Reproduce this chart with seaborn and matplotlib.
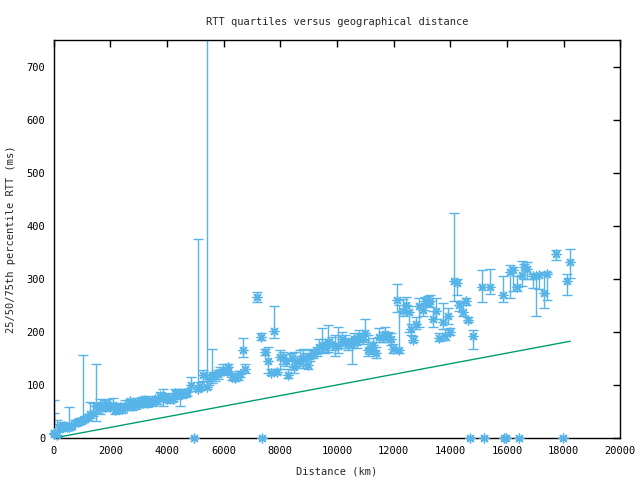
import matplotlib
matplotlib.use("Agg")
import matplotlib.pyplot as plt
import seaborn as sns
import numpy as np

# distance (km) and 25th / 50th / 75th percentile RTT (ms)
dist = [0, 20, 100, 200, 280, 350, 450, 530, 620, 750, 850, 920, 1030, 1120, 1200,
        1280, 1380, 1480, 1560, 1630, 1700, 1800, 1870, 1980, 2080, 2160, 2250, 2330,
        2420, 2510, 2600, 2690, 2780, 2860, 2950, 3040, 3130, 3220, 3300, 3390, 3480,
        3570, 3660, 3750, 3860, 3920, 4000, 4100, 4200, 4280, 4350, 4450, 4530, 4630,
        4720, 4840, 4950, 5090, 5180, 5270, 5400, 5480, 5580, 5700, 5800, 5870, 5980,
        6100, 6150, 6300, 6400, 6500, 6570, 6680, 6750, 7180, 7310, 7350, 7460, 7570,
        7670, 7780, 7870, 7990, 8100, 8200, 8270, 8400, 8490, 8580, 8690, 8790, 8870,
        8980, 9050, 9150, 9290, 9370, 9470, 9580, 9690, 9820, 9930, 10040, 10170,
        10280, 10390, 10530, 10600, 10710, 10780, 10920, 10990, 11100, 11170, 11270,
        11380, 11490, 11630, 11700, 11800, 11910, 11990, 12120, 12190, 12330, 12440,
        12550, 12620, 12700, 12790, 12900, 13030, 13110, 13200, 13290, 13390, 13500,
        13600, 13750, 13820, 13920, 14000, 14140, 14240, 14310, 14450, 14560, 14630,
        14700, 14810, 15120, 15200, 15410, 15870, 15900, 15960, 16110, 16220, 16360,
        16430, 16540, 16610, 16720, 16930, 17030, 17140, 17320, 17420, 17740, 17980,
        18130, 18240]
q25 = [2, 3, 2, 12, 14, 15, 16, 15, 17, 22, 24, 26, 30, 32, 34,
       38, 42, 32, 48, 46, 52, 50, 55, 52, 55, 46, 48, 50,
       48, 52, 54, 58, 52, 55, 62, 58, 60, 62, 58, 63, 60,
       66, 64, 70, 60, 70, 68, 66, 70, 76, 74, 60, 76, 78,
       80, 88, 0, 88, 90, 108, 92, 100, 104, 108, 112, 118, 118,
       120, 125, 110, 108, 110, 115, 153, 122, 257, 185, 0, 157, 122,
       118, 188, 120, 130, 140, 135, 114, 130, 122, 132, 135, 132, 140,
       130, 145, 150, 155, 160, 163, 160, 163, 165, 155, 160, 175,
       170, 165, 140, 175, 170, 182, 178, 185, 155, 158, 165,
       150, 180, 180, 185, 180, 175, 160, 237, 160, 230, 240,
       199, 195, 180, 205, 209, 230, 250, 248, 246, 210, 225,
       182, 205, 185, 215, 195, 258, 270, 240, 230, 250, 218,
       0, 168, 256, 0, 272, 256, 0, 0, 264, 278, 278,
       0, 287, 300, 300, 283, 230, 280, 245, 260, 335, 0,
       270, 302]
med = [10, 8, 6, 18, 20, 22, 20, 20, 22, 28, 30, 32, 34, 36, 40,
       46, 48, 60, 56, 56, 60, 58, 65, 59, 62, 53, 55, 58,
       54, 60, 58, 69, 60, 62, 68, 64, 66, 72, 66, 69, 68,
       73, 70, 79, 78, 77, 73, 75, 74, 84, 82, 84, 82, 84,
       86, 99, 0, 92, 98, 118, 96, 112, 119, 117, 120, 125, 128,
       126, 134, 115, 114, 116, 121, 165, 130, 266, 191, 0, 162, 146,
       122, 202, 125, 152, 150, 145, 119, 150, 133, 144, 145, 151, 150,
       138, 155, 158, 164, 172, 175, 169, 181, 178, 173, 173, 187,
       181, 177, 175, 187, 181, 193, 187, 197, 165, 168, 175,
       160, 190, 190, 196, 190, 187, 168, 260, 166, 240, 251,
       237, 205, 184, 214, 249, 241, 258, 257, 258, 224, 239,
       188, 218, 193, 230, 200, 296, 292, 250, 238, 258, 222,
       0, 193, 285, 0, 285, 270, 0, 0, 313, 317, 285,
       0, 307, 323, 318, 305, 305, 307, 273, 310, 347, 0,
       295, 332]
q75 = [47, 72, 34, 26, 30, 28, 25, 59, 28, 34, 36, 38, 156, 42, 46,
       68, 66, 139, 66, 73, 68, 72, 74, 66, 75, 62, 64, 66,
       60, 72, 66, 74, 70, 72, 76, 72, 78, 80, 74, 76, 74,
       80, 78, 86, 92, 84, 80, 82, 80, 92, 90, 92, 90, 90,
       92, 115, 0, 375, 105, 128, 1200, 120, 168, 125, 128, 134, 140,
       132, 140, 122, 120, 127, 127, 188, 140, 276, 198, 0, 167, 172,
       130, 249, 130, 165, 162, 158, 130, 160, 163, 155, 165, 168, 160,
       148, 165, 168, 172, 187, 207, 187, 213, 190, 195, 210, 200,
       195, 188, 185, 198, 192, 203, 198, 225, 195, 180, 188,
       172, 207, 200, 210, 200, 198, 178, 290, 250, 262, 265,
       249, 215, 192, 228, 264, 252, 266, 268, 270, 239, 264,
       198, 255, 205, 245, 207, 424, 300, 258, 258, 264, 228,
       0, 203, 317, 0, 319, 306, 0, 0, 326, 322, 305,
       0, 334, 328, 331, 310, 310, 310, 313, 313, 354, 0,
       309, 356]

# speed-of-light-in-fibre reference line
fibre_x = [0, 18240]
fibre_y = [0, 182.4]

xticks = [0, 2000, 4000, 6000, 8000, 10000, 12000, 14000, 16000, 18000, 20000]
yticks = [0, 100, 200, 300, 400, 500, 600, 700]

blue = "#56b4e9"
green = "#009e73"

sns.set_style("white")
plt.rcParams["font.family"] = ["DejaVu Sans Mono"]
plt.rcParams["font.size"] = 7.5

d = np.array(dist)
m = np.array(med)
lo = np.array(q25)
hi = np.array(q75)

fig = plt.figure(figsize=(6.4, 4.8), dpi=100)
ax = fig.add_axes([0.084, 0.0875, 0.885, 0.829])

ax.errorbar(d, m, yerr=[m - lo, hi - m], fmt="none", ecolor=blue,
            elinewidth=1, capsize=3.5, capthick=1)
sns.scatterplot(x=d, y=m, marker=(8, 2, 0), s=40, color=blue,
                linewidth=1, ax=ax, clip_on=False, zorder=3)
sns.lineplot(x=fibre_x, y=fibre_y, color=green, linewidth=1, ax=ax)

ax.set_xlim(0, 20000)
ax.set_ylim(0, 750)
ax.set_xticks(xticks)
ax.set_yticks(yticks)
ax.tick_params(direction="in", top=True, right=True, length=5, width=1,
               pad=6, colors="black", labelsize=7.5)
for sp in ax.spines.values():
    sp.set_visible(True)
    sp.set_color("black")
    sp.set_linewidth(1)

ax.set_title("RTT quartiles versus geographical distance", fontsize=7.5, pad=11)
ax.set_xlabel("Distance (km)", labelpad=7)
ax.set_ylabel("25/50/75th percentile RTT (ms)", labelpad=8)

fig.savefig("out.png", dpi=100)
